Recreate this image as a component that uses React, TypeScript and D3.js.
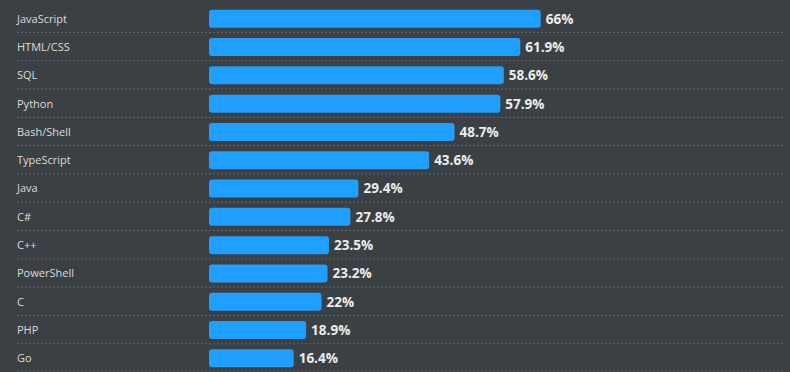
import React from 'react';
import * as d3 from 'd3';

const languages = ['JavaScript', 'HTML/CSS', 'SQL', 'Python', 'Bash/Shell', 'TypeScript', 'Java', 'C#', 'C++', 'PowerShell', 'C', 'PHP', 'Go'];
const shares = [66, 61.9, 58.6, 57.9, 48.7, 43.6, 29.4, 27.8, 23.5, 23.2, 22, 18.9, 16.4];

const W = 790;
const H = 372;
const barLeft = 209;
const bg = '#3b4045';
const barColor = '#1f9fff';

const App = () => {
  const data = languages.map((name, i) => ({ name, value: shares[i] }));

  const yScale = d3.scaleBand<string>()
    .domain(languages)
    .range([4.6, 4.6 + 28.3 * languages.length])
    .paddingInner(0);
  // bars have a small minimum width, so zero sits a few px right of the bar start
  const xScale = d3.scaleLinear().domain([0, 100]).range([barLeft + 3, barLeft + 3 + 498]);

  const bw = yScale.bandwidth();
  const barH = 18;

  return (
    <div style={{ position: 'absolute', left: 0, top: 0, width: W, height: H, background: bg }}>
      <svg width={W} height={H} style={{ display: 'block' }}>
        <rect width={W} height={H} fill={bg} />
        {data.map(d => {
          const y0 = yScale(d.name)!;
          const cy = y0 + bw / 2;
          const x1 = xScale(d.value);
          return (
            <g key={d.name}>
              <text x={17} y={cy} dy="0.35em" fill="#dcdcdc"
                style={{ fontFamily: '"Open Sans", "Noto Sans", sans-serif', fontSize: 11 }}>
                {d.name}
              </text>
              <rect x={barLeft} y={cy - barH / 2} width={x1 - barLeft} height={barH}
                rx={3} ry={3} fill={barColor} />
              <text x={x1 + 5} y={cy} dy="0.36em" fill="#ececec"
                style={{ fontFamily: '"Open Sans", "Noto Sans", sans-serif', fontSize: 13.5, fontWeight: 700 }}>
                {d3.format('~g')(d.value)}%
              </text>
              <line x1={17} x2={785} y1={y0 + bw - 0.5} y2={y0 + bw - 0.5}
                stroke="#62676c" strokeWidth={1} strokeDasharray="2,2" />
            </g>
          );
        })}
      </svg>
    </div>
  );
};

export default App;
